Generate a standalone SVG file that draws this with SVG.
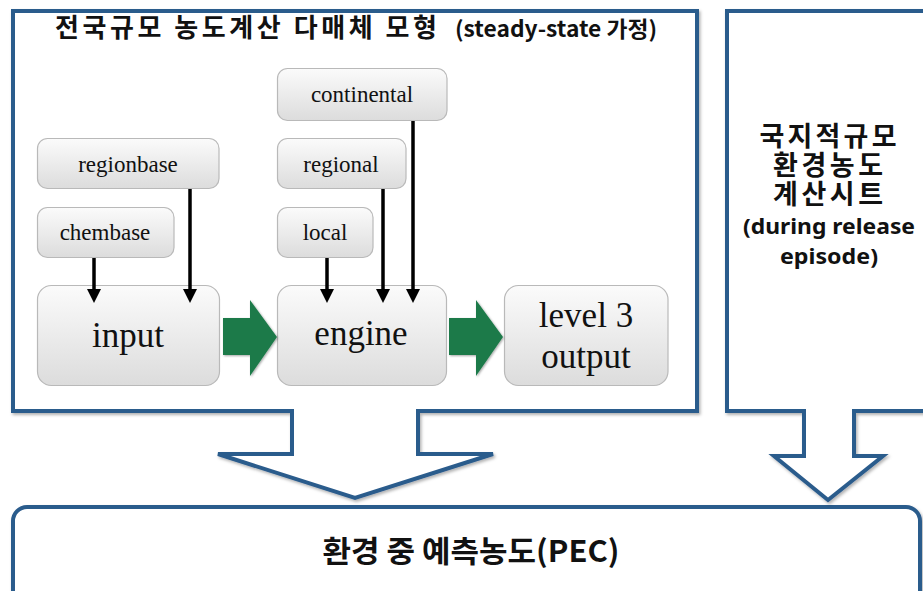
<svg xmlns="http://www.w3.org/2000/svg" width="923" height="591" viewBox="0 0 923 591">
<defs>
<linearGradient id="boxg" x1="0" y1="0" x2="0" y2="1">
<stop offset="0" stop-color="#fbfbfb"/>
<stop offset="1" stop-color="#dcdcdc"/>
</linearGradient>
<filter id="sh" x="-10%" y="-10%" width="120%" height="120%">
<feDropShadow dx="1.5" dy="2" stdDeviation="1.5" flood-color="#000" flood-opacity="0.3"/>
</filter>
<filter id="gsh" x="-20%" y="-20%" width="140%" height="140%">
<feDropShadow dx="1" dy="1" stdDeviation="1.2" flood-color="#000" flood-opacity="0.35"/>
</filter>
<marker id="ah" viewBox="0 0 14 14" refX="7" refY="7" markerWidth="14" markerHeight="14" markerUnits="userSpaceOnUse" orient="auto">
<path d="M0,0 L14,7 L0,14 z" fill="#000"/>
</marker>
</defs>
<style>
.frame{fill:#fff;stroke:#2b5b8c;stroke-width:4;stroke-linejoin:miter}
.box{fill:url(#boxg);stroke:#b9b9b9;stroke-width:1.2}
.lbl{font-family:"Liberation Serif","Times New Roman",serif;fill:#111;text-anchor:middle}
.s{font-size:23px}
.b{font-size:35px}
.ko{font-family:"Noto Sans CJK KR","Noto Sans CJK SC","Noto Sans",sans-serif;font-weight:700;fill:#111}
.en{font-family:"Noto Sans","Noto Sans CJK KR",sans-serif;font-weight:700;fill:#111}
.conn{stroke:#000;stroke-width:3.5;fill:none;marker-end:url(#ah)}
.garrow{fill:#1e7a4a;filter:url(#gsh)}
</style>
<rect width="923" height="591" fill="#fff"/>

<g id="bottom">
<rect class="frame" x="13" y="507" width="907" height="110" rx="14" filter="url(#sh)"/>
<text class="ko" x="471" y="562" font-size="30" text-anchor="middle" textLength="297" lengthAdjust="spacingAndGlyphs">환경 중 예측농도(PEC)</text>
</g>

<g id="national-panel">
<path class="frame" filter="url(#sh)" d="M13,11 H697 V411 H418 V454 H493 L355,498 L218,454 H292 V411 H13 Z"/>
<text class="ko" x="55" y="37" font-size="26" textLength="382">전국규모 농도계산 다매체 모형</text>
<text class="ko" x="455" y="37" font-size="22" textLength="202" lengthAdjust="spacingAndGlyphs">(steady-state 가정)</text>
</g>

<g id="local-panel">
<path class="frame" filter="url(#sh)" d="M727,11 H935 V411 H854 V456 H883 L828,500 L774,456 H804 V411 H727 Z"/>
<g class="ko" text-anchor="middle">
<text x="828" y="146" font-size="27" textLength="137">국지적규모</text>
<text x="828" y="175" font-size="27" textLength="110">환경농도</text>
<text x="828" y="204" font-size="27" textLength="110">계산시트</text>
</g>
<g class="en" text-anchor="middle">
<text x="829" y="234" font-size="21" textLength="172" lengthAdjust="spacingAndGlyphs">(during release</text>
<text x="829" y="264" font-size="21" textLength="98" lengthAdjust="spacingAndGlyphs">episode)</text>
</g>
</g>

<g id="continental">
<rect class="box" x="277.5" y="68.5" width="169.5" height="52" rx="10"/>
<text class="lbl s" x="362" y="102">continental</text>
</g>
<g id="regionbase">
<rect class="box" x="37.5" y="138.5" width="181.5" height="50" rx="10"/>
<text class="lbl s" x="128" y="172">regionbase</text>
</g>
<g id="regional">
<rect class="box" x="277.5" y="138.5" width="128.5" height="50" rx="10"/>
<text class="lbl s" x="341" y="172">regional</text>
</g>
<g id="chembase">
<rect class="box" x="37.5" y="207.5" width="136.5" height="50" rx="10"/>
<text class="lbl s" x="105" y="240">chembase</text>
</g>
<g id="local">
<rect class="box" x="277.5" y="207.5" width="95.5" height="50" rx="10"/>
<text class="lbl s" x="325" y="240">local</text>
</g>
<g id="input">
<rect class="box" x="37.5" y="285.5" width="182" height="100" rx="14"/>
<text class="lbl b" x="128" y="347">input</text>
</g>
<g id="engine">
<rect class="box" x="277.5" y="285.5" width="169" height="100" rx="14"/>
<text class="lbl b" x="361" y="345">engine</text>
</g>
<g id="level3output">
<rect class="box" x="504.5" y="285.5" width="163.5" height="100" rx="14"/>
<text class="lbl b" x="586" y="327">level 3</text>
<text class="lbl b" x="586" y="368">output</text>
</g>

<g id="connectors">
<line class="conn" x1="94" y1="258" x2="94" y2="296"/>
<line class="conn" x1="190" y1="189" x2="190" y2="296"/>
<line class="conn" x1="327" y1="258" x2="327" y2="296"/>
<line class="conn" x1="383" y1="189" x2="383" y2="296"/>
<line class="conn" x1="413" y1="121" x2="413" y2="296"/>
<path class="garrow" d="M223,318 H250 V300 L277,337 L250,376 V355 H223 Z"/>
<path class="garrow" d="M449,318 H476 V300 L503,337 L476,376 V355 H449 Z"/>
</g>
</svg>
